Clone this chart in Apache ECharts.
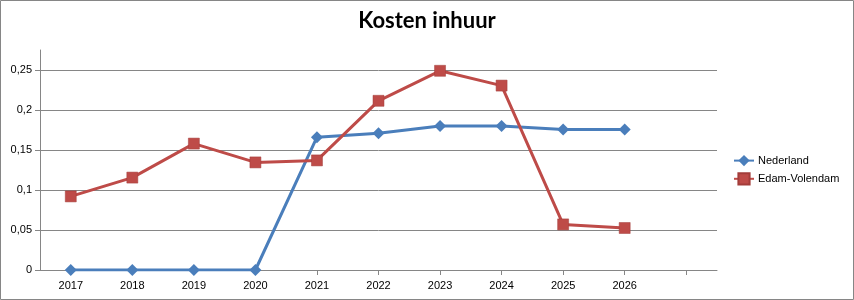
<!DOCTYPE html>
<html>
<head>
<meta charset="utf-8">
<script src="https://cdn.jsdelivr.net/npm/echarts@6/dist/echarts.min.js"></script>
<style>
html,body{margin:0;padding:0;background:#fff;}
#c{width:854px;height:300px;}
</style>
</head>
<body>
<div id="c"></div>
<script>
var categories = ['2017','2018','2019','2020','2021','2022','2023','2024','2025','2026',''];
var nederland = [0, 0, 0, 0, 0.166, 0.171, 0.18, 0.18, 0.1755, 0.1755];
var edamVolendam = [0.092, 0.1155, 0.158, 0.1345, 0.137, 0.2115, 0.249, 0.2305, 0.057, 0.0525];
var yTicks = [0, 0.05, 0.1, 0.15, 0.2, 0.25];

var chart = echarts.init(document.getElementById('c'), null, {renderer: 'canvas'});
var gray = '#868686';
var font = 'Liberation Sans';
chart.setOption({
  animation: false,
  backgroundColor: '#fff',
  title: {
    text: 'Kosten inhuur',
    left: 'center',
    top: 5,
    textStyle: {fontFamily: 'Lato', fontWeight: 'bold', fontSize: 22, color: '#000'}
  },
  legend: {
    orient: 'vertical',
    left: 728,
    top: 150,
    itemWidth: 20,
    itemHeight: 14,
    itemGap: 6,
    textStyle: {fontFamily: font, fontSize: 11, color: '#000', padding: [0, 0, 0, -1]},
    data: ['Nederland', 'Edam-Volendam']
  },
  grid: {left: 40, right: 137, top: 50, bottom: 30, containLabel: false},
  xAxis: {
    type: 'category',
    data: categories,
    boundaryGap: true,
    axisLine: {lineStyle: {color: gray, width: 1}},
    axisTick: {show: true, alignWithLabel: true, length: 5, lineStyle: {color: gray}},
    axisLabel: {fontFamily: font, fontSize: 11, color: '#000', margin: 10, interval: 0},
    splitLine: {show: false}
  },
  yAxis: {
    type: 'value',
    min: 0,
    max: 0.275,
    interval: 0.05,
    axisLine: {show: true, lineStyle: {color: gray, width: 1}},
    axisTick: {show: true, length: 5, lineStyle: {color: gray}},
    axisLabel: {
      fontFamily: font, fontSize: 11, color: '#000', margin: 8,
      showMaxLabel: false,
      formatter: function (v) {
        var ok = yTicks.some(function (t) { return Math.abs(t - v) < 1e-9; });
        return ok ? String(Math.round(v * 100) / 100).replace('.', ',') : '';
      }
    },
    splitLine: {show: true, showMaxLine: false, lineStyle: {color: gray, width: 1}}
  },
  series: [
    {
      name: 'Nederland',
      type: 'line',
      data: nederland,
      symbol: 'diamond',
      symbolSize: 12,
      showAllSymbol: true,
      lineStyle: {color: '#4A7EBB', width: 3},
      itemStyle: {color: '#4A7EBB', borderColor: '#4A7EBB', borderWidth: 0},
      z: 3
    },
    {
      name: 'Edam-Volendam',
      type: 'line',
      data: edamVolendam,
      symbol: 'rect',
      symbolSize: 11,
      showAllSymbol: true,
      lineStyle: {color: '#BE4B48', width: 3},
      itemStyle: {color: '#BE4B48', borderColor: '#A33D3A', borderWidth: 0.5},
      z: 4
    }
  ],
  graphic: [{
    type: 'rect',
    shape: {x: 0.5, y: 0.5, width: 853, height: 299},
    style: {fill: 'none', stroke: gray, lineWidth: 1},
    silent: true,
    z: 100
  }]
});
</script>
</body>
</html>
